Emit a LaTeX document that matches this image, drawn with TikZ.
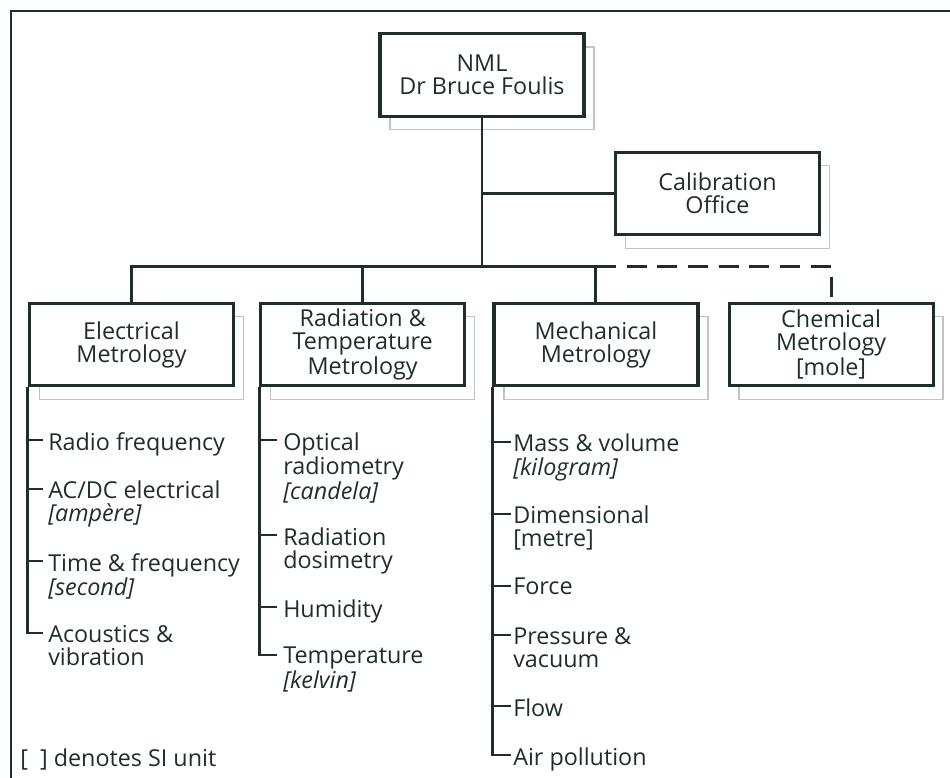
\documentclass[tikz,border=0pt]{standalone}
\usepackage{fontspec}
\setmainfont{Open Sans}
\usetikzlibrary{positioning,calc,shadows}
\definecolor{ink}{RGB}{30,46,40}
\definecolor{shade}{RGB}{195,195,195}
\begin{document}
\begin{tikzpicture}[
  x=0.75pt, y=-0.75pt,
  every node/.style = {text=ink, font=\fontsize{17.5}{17.25}\selectfont},
  unit/.style = {
    draw=ink,
    line width=2.4pt,
    shape=rectangle,
    minimum width=153pt,
    minimum height=62pt,
    fill=white,
    align=center,
    inner sep=2pt,
    general shadow={shadow xshift=7.5pt, shadow yshift=-10pt,
      draw=shade, fill=white, line width=1pt}
  },
  link/.style = {draw=ink, line width=2.2pt},
  item/.style = {anchor=north west, align=left, inner sep=0pt,
    execute at begin node=\strut},
  %dashlink/.style = {link, dashed},
]
  \useasboundingbox (0,0) rectangle (950,778);
  \draw[link] (11,778) -- (11,11) -- (950,11);

  % boxes
  \node (nml)[unit] at (482,75) {NML\\Dr Bruce Foulis};
  \node (cal)[unit] at (717.5,193.5) {Calibration\\Office};
  \node (elec)[unit] at (131.5,344.5) {Electrical\\Metrology};
  \node (rad)[unit, right=18pt of elec] {Radiation \&\\Temperature\\Metrology};
  \node (mech)[unit, right=19.5pt of rad] {Mechanical\\Metrology};
  \node (chem)[unit, right=21pt of mech] {Chemical\\Metrology\\{}[mole]};

  \coordinate (bus) at ($(nml.south |- elec.north)+(0,-35)$);
  \draw[link] (nml) -- (bus);
  \draw[link] (bus |- cal) -- (cal.west);
  \draw[link] (elec.north) |- (bus) -| (mech.north);
  \draw[link] (rad.north) -- (rad.north |- bus);
  \draw[link, dash pattern=on 15pt off 8pt] (mech.north |- bus) -| (chem.north);

  % electrical
  \node (rf)[item] at (48,432) {Radio frequency};
  \node (acdc)[item] at (48,481) {AC/DC electrical\\\textit{[ampère]}};
  \node (time)[item] at (48,553) {Time \& frequency\\\textit{[second]}};
  \node (acou)[item] at (48,625) {Acoustics \&\\vibration};
  \draw[link] ($(rf.north west)+(-5,8)$) -| (elec.south west);
  \draw[link] ($(acdc.north west)+(-5,8)$) -| (elec.south west);
  \draw[link] ($(time.north west)+(-5,8)$) -| (elec.south west);
  \draw[link] ($(acou.north west)+(-5,8)$) -| (elec.south west);

  % radiation & temperature
  \node (opt)[item] at (283,432) {Optical\\radiometry\\\textit{[candela]}};
  \node (dos)[item] at (283,527) {Radiation\\dosimetry};
  \node (hum)[item] at (283,599) {Humidity};
  \node (temp)[item] at (283,647) {Temperature\\\textit{[kelvin]}};
  \draw[link] ($(opt.north west)+(-6,8)$) -| (rad.south west);
  \draw[link] ($(dos.north west)+(-6,8)$) -| (rad.south west);
  \draw[link] ($(hum.north west)+(-6,8)$) -| (rad.south west);
  \draw[link] ($(temp.north west)+(-6,8)$) -| (rad.south west);

  % mechanical
  \node (mass)[item] at (513,434) {Mass \& volume\\\textit{[kilogram]}};
  \node (dim)[item] at (513,506) {Dimensional\\{}[metre]};
  \node (force)[item] at (513,578) {Force};
  \node (press)[item] at (513,627) {Pressure \&\\vacuum};
  \node (flow)[item] at (513,698) {Flow};
  \node (air)[item] at (513,747) {Air pollution};
  \draw[link] ($(mass.north west)+(-2,8)$) -| (mech.south west);
  \draw[link] ($(dim.north west)+(-2,8)$) -| (mech.south west);
  \draw[link] ($(force.north west)+(-2,8)$) -| (mech.south west);
  \draw[link] ($(press.north west)+(-2,8)$) -| (mech.south west);
  \draw[link] ($(flow.north west)+(-2,8)$) -| (mech.south west);
  \draw[link] ($(air.north west)+(-2,8)$) -| (mech.south west);

  \node (note)[anchor=base west, inner sep=0pt] at (20,766) {[~~]~denotes SI unit};
\end{tikzpicture}
\end{document}
